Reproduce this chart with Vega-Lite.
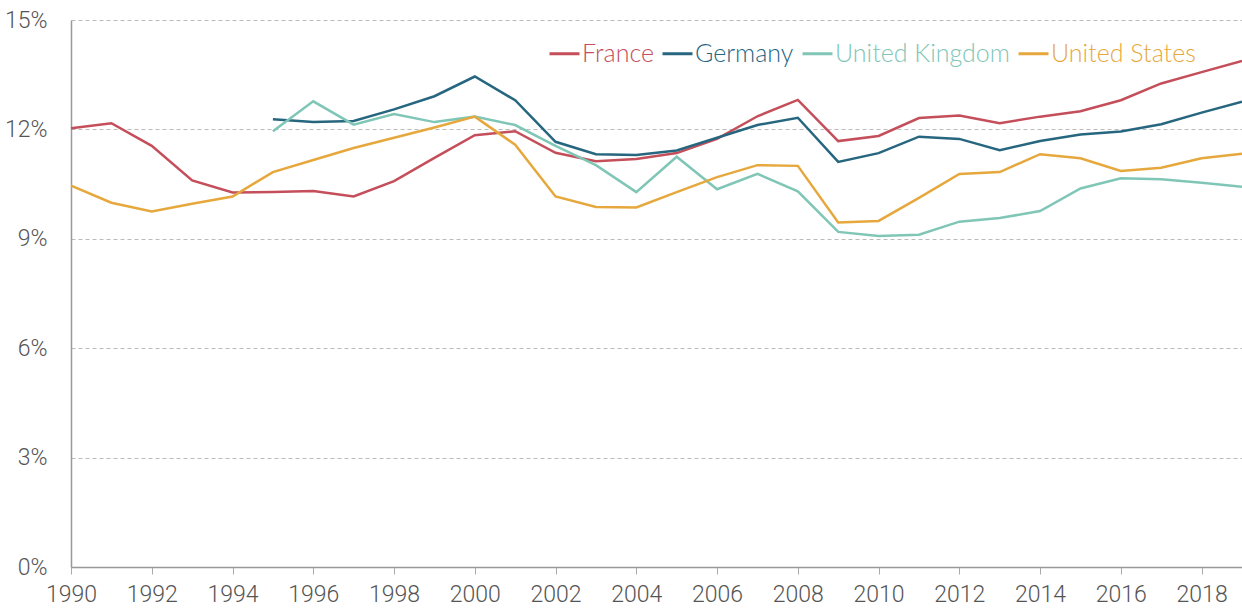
{
  "$schema": "https://vega.github.io/schema/vega-lite/v6.json",
  "width": 1171,
  "height": 547,
  "autosize": {"type": "none"},
  "padding": {"left": 71, "top": 20, "right": 0, "bottom": 43},
  "background": "white",
  "config": {"view": {"stroke": null}},
  "data": {"values": [
    {"country": "France", "year": 1990, "v": 12.03},
    {"country": "France", "year": 1991, "v": 12.17},
    {"country": "France", "year": 1992, "v": 11.55},
    {"country": "France", "year": 1993, "v": 10.60},
    {"country": "France", "year": 1994, "v": 10.27},
    {"country": "France", "year": 1995, "v": 10.28},
    {"country": "France", "year": 1996, "v": 10.31},
    {"country": "France", "year": 1997, "v": 10.16},
    {"country": "France", "year": 1998, "v": 10.58},
    {"country": "France", "year": 1999, "v": 11.22},
    {"country": "France", "year": 2000, "v": 11.84},
    {"country": "France", "year": 2001, "v": 11.95},
    {"country": "France", "year": 2002, "v": 11.36},
    {"country": "France", "year": 2003, "v": 11.13},
    {"country": "France", "year": 2004, "v": 11.19},
    {"country": "France", "year": 2005, "v": 11.35},
    {"country": "France", "year": 2006, "v": 11.74},
    {"country": "France", "year": 2007, "v": 12.36},
    {"country": "France", "year": 2008, "v": 12.81},
    {"country": "France", "year": 2009, "v": 11.68},
    {"country": "France", "year": 2010, "v": 11.82},
    {"country": "France", "year": 2011, "v": 12.31},
    {"country": "France", "year": 2012, "v": 12.38},
    {"country": "France", "year": 2013, "v": 12.17},
    {"country": "France", "year": 2014, "v": 12.35},
    {"country": "France", "year": 2015, "v": 12.50},
    {"country": "France", "year": 2016, "v": 12.80},
    {"country": "France", "year": 2017, "v": 13.26},
    {"country": "France", "year": 2018, "v": 13.57},
    {"country": "France", "year": 2019, "v": 13.88},
    {"country": "Germany", "year": 1995, "v": 12.28},
    {"country": "Germany", "year": 1996, "v": 12.20},
    {"country": "Germany", "year": 1997, "v": 12.23},
    {"country": "Germany", "year": 1998, "v": 12.55},
    {"country": "Germany", "year": 1999, "v": 12.91},
    {"country": "Germany", "year": 2000, "v": 13.45},
    {"country": "Germany", "year": 2001, "v": 12.80},
    {"country": "Germany", "year": 2002, "v": 11.66},
    {"country": "Germany", "year": 2003, "v": 11.32},
    {"country": "Germany", "year": 2004, "v": 11.30},
    {"country": "Germany", "year": 2005, "v": 11.42},
    {"country": "Germany", "year": 2006, "v": 11.77},
    {"country": "Germany", "year": 2007, "v": 12.12},
    {"country": "Germany", "year": 2008, "v": 12.32},
    {"country": "Germany", "year": 2009, "v": 11.11},
    {"country": "Germany", "year": 2010, "v": 11.35},
    {"country": "Germany", "year": 2011, "v": 11.80},
    {"country": "Germany", "year": 2012, "v": 11.74},
    {"country": "Germany", "year": 2013, "v": 11.43},
    {"country": "Germany", "year": 2014, "v": 11.68},
    {"country": "Germany", "year": 2015, "v": 11.86},
    {"country": "Germany", "year": 2016, "v": 11.94},
    {"country": "Germany", "year": 2017, "v": 12.14},
    {"country": "Germany", "year": 2018, "v": 12.46},
    {"country": "Germany", "year": 2019, "v": 12.76},
    {"country": "United Kingdom", "year": 1995, "v": 11.95},
    {"country": "United Kingdom", "year": 1996, "v": 12.77},
    {"country": "United Kingdom", "year": 1997, "v": 12.13},
    {"country": "United Kingdom", "year": 1998, "v": 12.42},
    {"country": "United Kingdom", "year": 1999, "v": 12.20},
    {"country": "United Kingdom", "year": 2000, "v": 12.35},
    {"country": "United Kingdom", "year": 2001, "v": 12.12},
    {"country": "United Kingdom", "year": 2002, "v": 11.55},
    {"country": "United Kingdom", "year": 2003, "v": 11.02},
    {"country": "United Kingdom", "year": 2004, "v": 10.28},
    {"country": "United Kingdom", "year": 2005, "v": 11.25},
    {"country": "United Kingdom", "year": 2006, "v": 10.36},
    {"country": "United Kingdom", "year": 2007, "v": 10.78},
    {"country": "United Kingdom", "year": 2008, "v": 10.30},
    {"country": "United Kingdom", "year": 2009, "v": 9.19},
    {"country": "United Kingdom", "year": 2010, "v": 9.08},
    {"country": "United Kingdom", "year": 2011, "v": 9.11},
    {"country": "United Kingdom", "year": 2012, "v": 9.47},
    {"country": "United Kingdom", "year": 2013, "v": 9.57},
    {"country": "United Kingdom", "year": 2014, "v": 9.76},
    {"country": "United Kingdom", "year": 2015, "v": 10.38},
    {"country": "United Kingdom", "year": 2016, "v": 10.66},
    {"country": "United Kingdom", "year": 2017, "v": 10.63},
    {"country": "United Kingdom", "year": 2018, "v": 10.54},
    {"country": "United Kingdom", "year": 2019, "v": 10.43},
    {"country": "United States", "year": 1990, "v": 10.46},
    {"country": "United States", "year": 1991, "v": 9.99},
    {"country": "United States", "year": 1992, "v": 9.75},
    {"country": "United States", "year": 1993, "v": 9.96},
    {"country": "United States", "year": 1994, "v": 10.16},
    {"country": "United States", "year": 1995, "v": 10.83},
    {"country": "United States", "year": 1996, "v": 11.16},
    {"country": "United States", "year": 1997, "v": 11.49},
    {"country": "United States", "year": 1998, "v": 11.77},
    {"country": "United States", "year": 1999, "v": 12.05},
    {"country": "United States", "year": 2000, "v": 12.35},
    {"country": "United States", "year": 2001, "v": 11.58},
    {"country": "United States", "year": 2002, "v": 10.16},
    {"country": "United States", "year": 2003, "v": 9.87},
    {"country": "United States", "year": 2004, "v": 9.86},
    {"country": "United States", "year": 2005, "v": 10.28},
    {"country": "United States", "year": 2006, "v": 10.69},
    {"country": "United States", "year": 2007, "v": 11.02},
    {"country": "United States", "year": 2008, "v": 11.00},
    {"country": "United States", "year": 2009, "v": 9.45},
    {"country": "United States", "year": 2010, "v": 9.49},
    {"country": "United States", "year": 2011, "v": 10.12},
    {"country": "United States", "year": 2012, "v": 10.78},
    {"country": "United States", "year": 2013, "v": 10.83},
    {"country": "United States", "year": 2014, "v": 11.32},
    {"country": "United States", "year": 2015, "v": 11.21},
    {"country": "United States", "year": 2016, "v": 10.86},
    {"country": "United States", "year": 2017, "v": 10.95},
    {"country": "United States", "year": 2018, "v": 11.21},
    {"country": "United States", "year": 2019, "v": 11.33}
  ]},
  "mark": {"type": "line", "strokeWidth": 2.5, "clip": false},
  "encoding": {
    "x": {
      "field": "year", "type": "quantitative",
      "scale": {"domain": [1990, 2019], "nice": false, "zero": false},
      "axis": {
        "title": null,
        "values": [1990, 1992, 1994, 1996, 1998, 2000, 2002, 2004, 2006, 2008, 2010, 2012, 2014, 2016, 2018],
        "format": "d",
        "grid": false,
        "domainColor": "#999999",
        "domainWidth": 1.5,
        "tickColor": "#aaaaaa",
        "tickSize": 7,
        "tickWidth": 1,
        "labelFont": "Roboto",
        "labelFontWeight": 300,
        "labelFontSize": 23,
        "labelColor": "#555555",
        "labelPadding": 9,
        "labelFlush": false
      }
    },
    "y": {
      "field": "v", "type": "quantitative",
      "scale": {"domain": [0, 15], "nice": false},
      "axis": {
        "title": null,
        "values": [0, 3, 6, 9, 12, 15],
        "labelExpr": "datum.value + '%'",
        "grid": true,
        "gridColor": "#bbbbbb",
        "gridDash": [4, 3],
        "gridWidth": 1,
        "ticks": false,
        "domainColor": "#999999",
        "domainWidth": 1.5,
        "labelFont": "Roboto",
        "labelFontWeight": 300,
        "labelFontSize": 23,
        "labelColor": "#555555",
        "labelPadding": 24
      }
    },
    "color": {
      "field": "country", "type": "nominal",
      "scale": {
        "domain": ["France", "Germany", "United Kingdom", "United States"],
        "range": ["#c44e5a", "#26667f", "#80c6b6", "#e6a83d"]
      },
      "legend": {
        "title": null,
        "orient": "none",
        "direction": "horizontal",
        "legendX": 477,
        "legendY": 17,
        "symbolType": "stroke",
        "symbolSize": 900,
        "symbolStrokeWidth": 3,
        "labelFont": "Lato",
        "labelFontSize": 25,
        "labelFontWeight": 300,
        "labelOffset": 1,
        "columnPadding": 2,
        "labelLimit": 300,
        "encode": {
          "labels": {"update": {"fill": {"signal": "scale('color', datum.value)"}}}
        }
      }
    }
  }
}
